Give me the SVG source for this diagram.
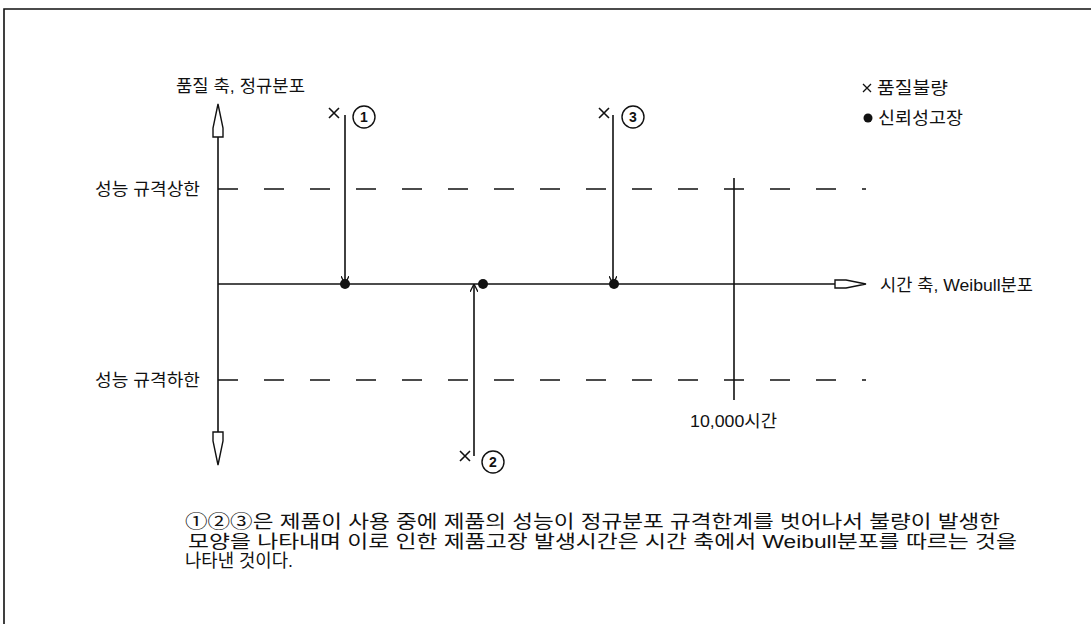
<svg xmlns="http://www.w3.org/2000/svg" width="1091" height="624" viewBox="0 0 1091 624">
<defs>
<style>
.t{font-family:"Liberation Sans","Noto Sans CJK KR",sans-serif;font-size:17px;fill:#111}
.n{font-size:18px}
.ln{stroke:#111;stroke-width:1.6;fill:none}
.ds{stroke:#111;stroke-width:1.6;fill:none;stroke-dasharray:20 26}
.hd{stroke:#111;stroke-width:1.4;fill:#fff;stroke-linejoin:miter}
.cn{font-family:"Liberation Sans",sans-serif;font-size:14px;font-weight:bold;fill:#111;text-anchor:middle}
</style>
<marker id="ah" viewBox="0 0 10 10" refX="10" refY="5" markerWidth="8" markerHeight="8" orient="auto" markerUnits="userSpaceOnUse">
<path d="M0,0 L10,5 L0,10" fill="none" stroke="#111" stroke-width="1.6"/>
</marker>
</defs>
<rect width="1091" height="624" fill="#fff"/>
<path d="M4,624 L4,9 L1091,9" class="ln"/>

<g id="axes">
<line x1="218" y1="137" x2="218" y2="432" class="ln"/>
<polygon points="218,104 223,128 223,137 213,137 213,128" class="hd"/>
<polygon points="218,465 223,441 223,432 213,432 213,441" class="hd"/>
<line x1="218" y1="284" x2="835" y2="284" class="ln"/>
<polygon points="866,284 846,280 835,280 835,288 846,288" class="hd"/>
</g>

<g id="limits">
<line x1="218" y1="189" x2="866" y2="189" class="ds"/>
<line x1="218" y1="380" x2="866" y2="380" class="ds"/>
<line x1="734" y1="178" x2="734" y2="400" class="ln"/>
</g>

<g id="labels">
<text class="t" x="176" y="92" textLength="129" lengthAdjust="spacingAndGlyphs">품질 축, 정규분포</text>
<text class="t" x="95" y="195" textLength="105" lengthAdjust="spacingAndGlyphs">성능 규격상한</text>
<text class="t" x="95" y="386" textLength="105" lengthAdjust="spacingAndGlyphs">성능 규격하한</text>
<text class="t" x="880" y="291" textLength="153" lengthAdjust="spacingAndGlyphs">시간 축, Weibull분포</text>
<text class="t" x="690" y="427" textLength="87" lengthAdjust="spacingAndGlyphs">10,000시간</text>
</g>

<g id="legend">
<path d="M863,84 L871,92 M871,84 L863,92" stroke="#111" stroke-width="1.3" fill="none"/>
<text class="t" x="877" y="94" textLength="71" lengthAdjust="spacingAndGlyphs">품질불량</text>
<circle cx="868" cy="118" r="4.5" fill="#111"/>
<text class="t" x="878" y="124" textLength="85" lengthAdjust="spacingAndGlyphs">신뢰성고장</text>
</g>

<g id="connectors">
<line x1="345" y1="115" x2="345" y2="284" class="ln" marker-end="url(#ah)"/>
<line x1="613" y1="115" x2="613" y2="284" class="ln" marker-end="url(#ah)"/>
<line x1="474" y1="456" x2="474" y2="284" class="ln" marker-end="url(#ah)"/>
</g>

<g id="failure1">
<path d="M329,108 L339,118 M339,108 L329,118" class="ln"/>
<circle cx="364" cy="117" r="11" fill="#fff" stroke="#111" stroke-width="1.4"/>
<text class="cn" x="364" y="122">1</text>
<circle cx="345" cy="284" r="5" fill="#111"/>
</g>
<g id="failure2">
<path d="M460,451 L470,461 M470,451 L460,461" class="ln"/>
<circle cx="493" cy="462" r="11" fill="#fff" stroke="#111" stroke-width="1.4"/>
<text class="cn" x="493" y="467">2</text>
<circle cx="483" cy="284" r="5" fill="#111"/>
</g>
<g id="failure3">
<path d="M599,108 L609,118 M609,108 L599,118" class="ln"/>
<circle cx="633" cy="117" r="11" fill="#fff" stroke="#111" stroke-width="1.4"/>
<text class="cn" x="633" y="122">3</text>
<circle cx="614" cy="284" r="5" fill="#111"/>
</g>

<g id="note">
<text class="t n" x="185" y="528" textLength="815" lengthAdjust="spacingAndGlyphs">①②③은 제품이 사용 중에 제품의 성능이 정규분포 규격한계를 벗어나서 불량이 발생한</text>
<text class="t n" x="188" y="548" textLength="829" lengthAdjust="spacingAndGlyphs">모양을 나타내며 이로 인한 제품고장 발생시간은 시간 축에서 Weibull분포를 따르는 것을</text>
<text class="t n" x="185" y="567" textLength="108" lengthAdjust="spacingAndGlyphs">나타낸 것이다.</text>
</g>
</svg>
